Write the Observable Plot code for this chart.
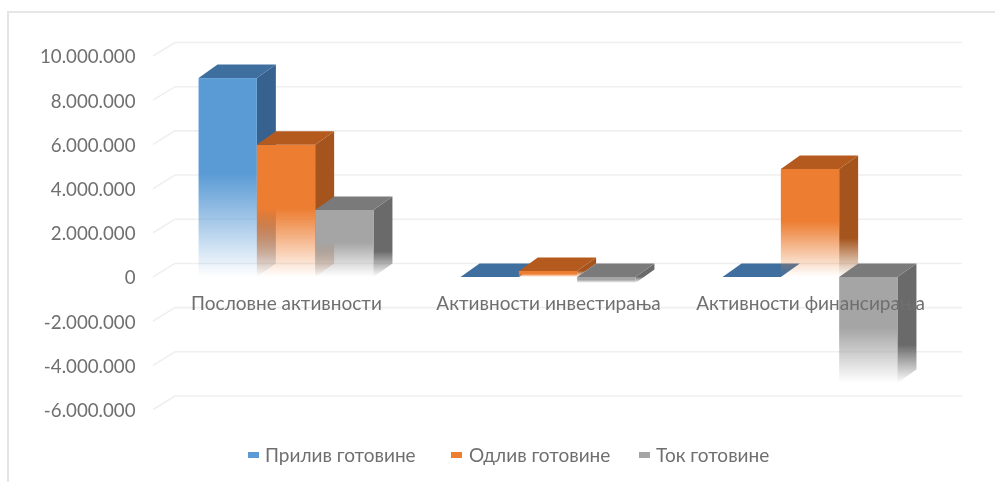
<!DOCTYPE html>
<html><head><meta charset="utf-8">
<script src="https://cdn.jsdelivr.net/npm/d3@7"></script>
<script src="https://cdn.jsdelivr.net/npm/@observablehq/plot@0.6"></script>
<style>
html,body{margin:0;padding:0;background:#fff;width:995px;height:482px;overflow:hidden}
#frame{position:absolute;left:7px;top:11px;width:988px;height:471px;border-top:2px solid #e6e6e6;border-left:2px solid #e4e4e4;box-sizing:border-box;pointer-events:none}
#chart svg{display:block}
#chart,#legend{filter:blur(0.4px)}
#legend{position:absolute;left:0;top:441px;width:995px;height:30px;line-height:30px;font:19px Lato,"Noto Sans",sans-serif;color:#6f6f6f;white-space:nowrap}
#legend span{position:absolute;top:0}
#legend i{position:absolute;top:11px;width:11px;height:6px}
</style></head><body>
<div id="frame"></div><div id="chart"></div><div id="legend"></div>
<script>
const categories = ["Пословне активности","Активности инвестирања","Активности финансирања"];
const seriesNames = ["Прилив готовине","Одлив готовине","Ток готовине"];
const priliv = [9000000, 0, 0];
const odliv  = [5980000, 270000, 4890000];
const tok    = [3030000, -270000, -4800000];
const yTicks = [-6000000,-4000000,-2000000,0,2000000,4000000,6000000,8000000,10000000];

const seriesValues = [priliv, odliv, tok];
const rows = seriesValues.flatMap((vals,s)=>vals.map((value,c)=>({cat:categories[c],c,s,value})));

// 3D view settings
const frontColor = ["#5B9BD5","#ED7D31","#A5A5A5"];
const topColor   = ["#3F6F9F","#B45A1E","#7A7A7A"];
const sideColor  = ["#37628F","#A4541C","#6A6A6A"];
const barWidth   = 58.3;
const depthX     = 19;
const depthY     = 13.5;

const fmt = d3.formatLocale({decimal:",",thousands:".",grouping:[3],currency:["",""],minus:"-"}).format(",d");

function gradient(defs,id,color,stops){
  const g = defs.append("linearGradient").attr("id",id).attr("x1",0).attr("y1",0).attr("x2",0).attr("y2",1);
  stops.forEach(([o,a])=>g.append("stop").attr("offset",o).attr("stop-color",color).attr("stop-opacity",a));
}

function render3d(index,scales,ch){
  const root = d3.create("svg:g");
  const defs = root.append("defs");
  frontColor.forEach((c,i)=>gradient(defs,"f"+i,c,[[0,1],[.48,1],[.58,.82],[1,0]]));
  sideColor.forEach((c,i)=>gradient(defs,"d"+i,c,[[0,1],[.68,1],[1,0]]));
  const bw = scales.x.bandwidth;
  const band = typeof bw==="function" ? bw() : bw;
  for(const i of index){
    const d = rows[i];
    const x0 = scales.x(d.cat)+band/2-1.5*barWidth+d.s*barWidth;
    const x1 = x0+barWidth;
    const yT = Math.min(ch.y1[i],ch.y2[i]), yB = Math.max(ch.y1[i],ch.y2[i]);
    if(yB-yT>1){
      root.append("path").attr("d",`M${x1},${yT}L${x1+depthX},${yT-depthY}L${x1+depthX},${yB-depthY}L${x1},${yB}Z`).attr("fill",`url(#d${d.s})`);
      root.append("rect").attr("x",x0).attr("y",yT).attr("width",x1-x0).attr("height",yB-yT).attr("fill",`url(#f${d.s})`);
    }
    root.append("path").attr("d",`M${x0},${yT}L${x0+depthX},${yT-depthY}L${x1+depthX},${yT-depthY}L${x1},${yT}Z`).attr("fill",topColor[d.s]);
  }
  return root.node();
}

function renderGrid(index,scales,ch){
  const root = d3.create("svg:g").attr("fill","none").attr("stroke","#efefef").attr("stroke-width",1.6);
  for(const i of index){
    const y = ch.y[i];
    root.append("path").attr("d",`M153,${y}L175,${y-depthY}L962,${y-depthY}`);
  }
  return root.node();
}

const chart = Plot.plot({
  width:995,height:440,
  marginLeft:153,marginRight:33,marginTop:56,marginBottom:30,
  style:{fontFamily:'Lato,"Noto Sans",sans-serif',background:"transparent"},
  x:{type:"band",domain:categories,range:[154,941],padding:0,axis:null},
  y:{domain:[-6000000,10000000],range:[409.5,56]},
  marks:[
    Plot.ruleY(yTicks,{y:d=>d,render:renderGrid}),
    Plot.axisY({ticks:yTicks,tickFormat:fmt,tickSize:0,tickPadding:18,label:null,fontSize:18.7,color:"#6f6f6f",dy:1}),
    Plot.barY(rows,{x:"cat",y1:()=>0,y2:"value",render:render3d}),
    Plot.text(categories,{x:d=>d,y:()=>0,dy:26,text:d=>d,fontSize:19,fill:"#6f6f6f"})
  ]
});
document.getElementById("chart").append(chart);

const legendX = [[248,265],[451,469],[639,656]];
const legend = d3.select("#legend");
seriesNames.forEach((n,i)=>{
  legend.append("i").style("left",legendX[i][0]+"px").style("top","11px").style("background",frontColor[i]);
  legend.append("span").style("left",legendX[i][1]+"px").style("top","2px").text(n);
});
</script></body></html>
